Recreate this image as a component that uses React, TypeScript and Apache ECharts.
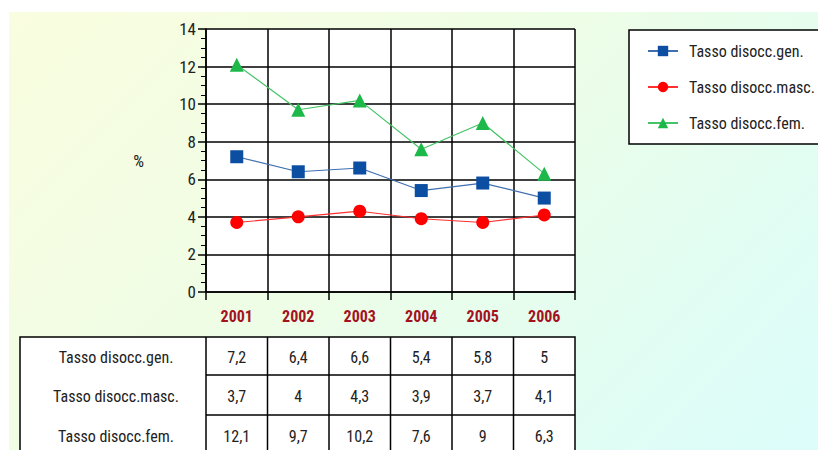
import React, { useEffect, useRef } from "react";
import * as echarts from "echarts";

const years = ["2001", "2002", "2003", "2004", "2005", "2006"];
const seriesNames = ["Tasso disocc.gen.", "Tasso disocc.masc.", "Tasso disocc.fem."];
const genValues = [7.2, 6.4, 6.6, 5.4, 5.8, 5];
const mascValues = [3.7, 4, 4.3, 3.9, 3.7, 4.1];
const femValues = [12.1, 9.7, 10.2, 7.6, 9, 6.3];
const yTicks = [0, 2, 4, 6, 8, 10, 12, 14];

const FONT = "'Liberation Sans Narrow', 'Arial Narrow', 'Roboto Condensed', Roboto, 'Liberation Sans', sans-serif";

export default function App() {
  const ref = useRef<HTMLDivElement>(null);
  useEffect(() => {
    document.body.style.margin = "0";
    const chart = echarts.init(ref.current!, null, { renderer: "svg" });
    const allValues = [genValues, mascValues, femValues];
    const colors = ["#0b4ea2", "#ff0000", "#1cb84a"];
    const lineColors = ["#3f6fb0", "#ff3030", "#44c466"];
    const symbols = ["rect", "circle", "triangle"];
    const sizes = [13, 13, 14];
    chart.setOption({
      animation: false,
      backgroundColor: "transparent",
      grid: { left: 206, top: 29, right: 243, bottom: 158, show: true, backgroundColor: "#ffffff", borderWidth: 0 },
      legend: {
        orient: "vertical",
        left: 642,
        top: 38,
        itemWidth: 30,
        itemHeight: 13,
        itemGap: 20,
        data: seriesNames,
        textStyle: { fontFamily: FONT, fontSize: 16, color: "#222", padding: [0, 0, 0, 6] },
      },
      xAxis: {
        type: "category",
        data: years,
        boundaryGap: true,
        axisLine: { lineStyle: { color: "#000", width: 1.5 } },
        axisTick: { show: true, length: 8, lineStyle: { color: "#000", width: 1.5 } },
        axisLabel: { margin: 16, fontFamily: FONT, fontSize: 16, fontWeight: "bold", color: "#a3131f" },
        splitLine: { show: true, lineStyle: { color: "#000", width: 1.5 } },
      },
      yAxis: {
        type: "value",
        min: yTicks[0],
        max: yTicks[yTicks.length - 1],
        interval: 2,
        name: "%",
        nameLocation: "middle",
        nameRotate: 0,
        nameGap: 62,
        nameTextStyle: { fontFamily: FONT, fontSize: 17, color: "#222", padding: [6, 0, 0, 0] },
        axisLine: { show: true, lineStyle: { color: "#000", width: 1.5 } },
        axisTick: { show: true, length: 8, lineStyle: { color: "#000", width: 1.5 } },
        minorTick: { show: true, splitNumber: 4, length: 5, lineStyle: { color: "#000", width: 1 } },
        axisLabel: { margin: 10, fontFamily: FONT, fontSize: 17, color: "#222" },
        splitLine: { show: true, lineStyle: { color: "#000", width: 1.5 } },
      },
      series: seriesNames.map((name, i) => ({
        name,
        type: "line",
        data: allValues[i],
        symbol: symbols[i],
        symbolSize: sizes[i],
        showSymbol: true,
        itemStyle: { color: colors[i] },
        lineStyle: { color: lineColors[i], width: 1.2 },
        z: 5,
      })),
    });

    // table below the chart, aligned with categories
    const c0 = chart.convertToPixel({ xAxisIndex: 0 }, 0) as number;
    const c1 = chart.convertToPixel({ xAxisIndex: 0 }, 1) as number;
    const band = c1 - c0;
    const tableLeft = 20;
    const firstCol = c0 - band / 2;
    const lastCol = firstCol + band * years.length;
    const rowTops = [337, 375, 415, 455];
    const els: any[] = [];
    els.push({
      type: "rect",
      z: 0,
      shape: { x: 629, y: 30, width: 220, height: 114 },
      style: { fill: "#ffffff", stroke: "#000", lineWidth: 1.5 },
    });
    els.push({
      type: "rect",
      shape: { x: tableLeft, y: rowTops[0], width: lastCol - tableLeft, height: rowTops[3] - rowTops[0] },
      style: { fill: "#ffffff", stroke: "#000", lineWidth: 1.5 },
    });
    for (let r = 1; r < 3; r++) {
      els.push({
        type: "line",
        shape: { x1: firstCol, y1: rowTops[r], x2: lastCol, y2: rowTops[r] },
        style: { stroke: "#000", lineWidth: 1.5 },
      });
    }
    for (let c = 0; c < years.length; c++) {
      const x = firstCol + band * c;
      els.push({
        type: "line",
        shape: { x1: x, y1: rowTops[0], x2: x, y2: rowTops[3] },
        style: { stroke: "#000", lineWidth: 1.5 },
      });
    }
    for (let r = 0; r < 3; r++) {
      const cy = (rowTops[r] + rowTops[r + 1]) / 2 + 1;
      els.push({
        type: "text",
        x: (tableLeft + firstCol) / 2 + 3,
        y: cy,
        style: { text: seriesNames[r], fontFamily: FONT, fontSize: 16, fill: "#222", align: "center", verticalAlign: "middle" },
      });
      allValues[r].forEach((v, i) => {
        els.push({
          type: "text",
          x: firstCol + band * (i + 0.5),
          y: cy,
          style: { text: String(v).replace(".", ","), fontFamily: FONT, fontSize: 16, fill: "#222", align: "center", verticalAlign: "middle" },
        });
      });
    }
    chart.setOption({ graphic: { elements: els } });
    return () => chart.dispose();
  }, []);
  return (
    <div style={{ position: "relative", width: 818, height: 450, background: "#ffffff", overflow: "hidden" }}>
      <div
        style={{
          position: "absolute",
          left: 9,
          top: 12,
          width: 809,
          height: 438,
          background: "linear-gradient(135deg, #fafddf 0%, #eefde6 45%, #e2fdf2 75%, #dcfdfb 100%)",
        }}
      />
      <div ref={ref} style={{ position: "absolute", left: 0, top: 0, width: 818, height: 450 }} />
    </div>
  );
}
